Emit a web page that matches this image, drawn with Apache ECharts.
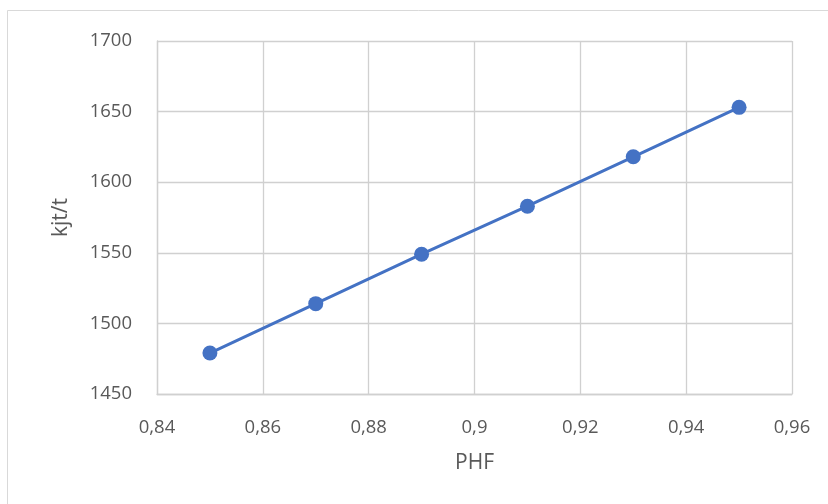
<!DOCTYPE html>
<html><head><meta charset="utf-8">
<script src="https://cdn.jsdelivr.net/npm/echarts@6/dist/echarts.min.js"></script>
<style>html,body{margin:0;padding:0;background:#fff}#c{width:828px;height:504px}</style>
</head><body><div id="c"></div>
<script>
const xValues = [0.85, 0.87, 0.89, 0.91, 0.93, 0.95];
const yValues = [1479, 1514, 1549, 1583, 1618, 1653];
const xTitle = 'PHF';
const yTitle = 'kjt/t';
const FONT = '"Open Sans", "Liberation Sans", sans-serif';
const chart = echarts.init(document.getElementById('c'), null, {renderer: 'canvas'});
chart.setOption({
  animation: false,
  backgroundColor: '#fff',
  graphic: [{type: 'rect', shape: {x: 7.5, y: 10.5, width: 900, height: 600}, style: {fill: 'none', stroke: '#d9d9d9', lineWidth: 1}, silent: true}],
  grid: {left: 157, top: 41, right: 36, bottom: 110, containLabel: false},
  xAxis: {
    type: 'value', min: 0.84, max: 0.96, interval: 0.02,
    name: xTitle, nameLocation: 'middle', nameGap: 59,
    nameTextStyle: {fontFamily: FONT, fontSize: 21, color: '#595959'},
    axisLine: {show: true, lineStyle: {color: '#d0d0d0', width: 1.3}},
    axisTick: {show: false},
    splitLine: {show: true, lineStyle: {color: '#d0d0d0', width: 1.3}},
    axisLabel: {fontFamily: FONT, fontSize: 18.5, color: '#595959', margin: 24,
      formatter: v => String(Math.round(v * 100) / 100).replace('.', ',')}
  },
  yAxis: {
    type: 'value', min: 1450, max: 1700, interval: 50,
    name: yTitle, nameLocation: 'middle', nameGap: 85,
    nameTextStyle: {fontFamily: FONT, fontSize: 21, color: '#595959'},
    axisLine: {show: true, lineStyle: {color: '#d0d0d0', width: 1.3}},
    axisTick: {show: false},
    splitLine: {show: true, lineStyle: {color: '#d0d0d0', width: 1.3}},
    axisLabel: {fontFamily: FONT, fontSize: 18.5, color: '#595959', margin: 25,
      formatter: v => String(v)}
  },
  series: [{
    type: 'line',
    data: xValues.map((x, i) => [x, yValues[i]]),
    symbol: 'circle', symbolSize: 15,
    lineStyle: {color: '#4472c4', width: 3},
    itemStyle: {color: '#4472c4'}
  }]
});
</script></body></html>
